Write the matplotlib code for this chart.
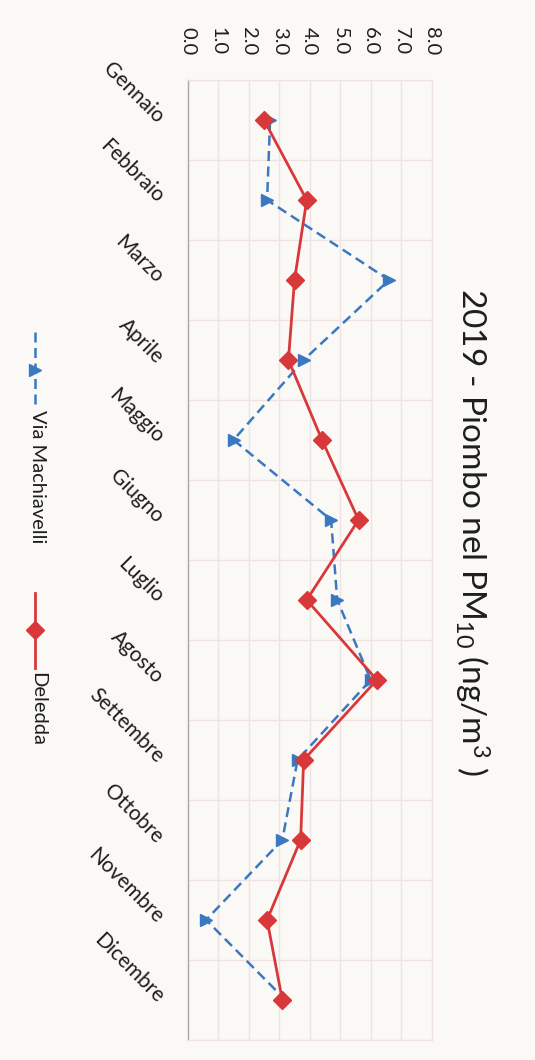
import numpy as np
import matplotlib
matplotlib.use("Agg")
import matplotlib.pyplot as plt
from matplotlib.lines import Line2D

mesi = ['Gennaio', 'Febbraio', 'Marzo', 'Aprile', 'Maggio', 'Giugno',
        'Luglio', 'Agosto', 'Settembre', 'Ottobre', 'Novembre', 'Dicembre']
machiavelli = [2.7, 2.6, 6.6, 3.8, 1.5, 4.7, 4.9, 6.0, 3.6, 3.1, 0.6, 3.2]
deledda = [2.5, 3.9, 3.5, 3.3, 4.4, 5.6, 3.9, 6.2, 3.8, 3.7, 2.6, 3.1]
valori_tick = np.arange(0, 9, 1)

titolo = '2019 - Piombo nel PM$_{10}$ (ng/m$^{3}$ )'
nome_mach = 'Via Machiavelli'
nome_del = 'Deledda'

blu = '#3B78C2'
rosso = '#D8383A'
sfondo = '#FBF9F5'
griglia = '#EEE2E2'
testo = '#1E1E1E'

plt.rcParams['font.family'] = ['Lato', 'DejaVu Sans']
plt.rcParams['mathtext.fontset'] = 'custom'
plt.rcParams['mathtext.rm'] = 'Lato'
plt.rcParams['mathtext.it'] = 'Lato:italic'
plt.rcParams['mathtext.bf'] = 'Lato:bold'
plt.rcParams['text.color'] = testo

fig = plt.figure(figsize=(5.35, 10.6), dpi=100, facecolor=sfondo)
ax = fig.add_axes([0.351, 0.019, 0.456, 0.9055], facecolor=sfondo)

pos = np.arange(len(mesi))
tratteggio = (0, (4, 2.2))
stile_blu = dict(color=blu, lw=1.8, linestyle=tratteggio, marker='>',
                 markersize=8.5, markerfacecolor=blu, markeredgecolor=blu)
stile_rosso = dict(color=rosso, lw=2.0, linestyle='-', marker='D',
                   markersize=9, markerfacecolor=rosso, markeredgecolor=rosso)
ax.plot(machiavelli, pos, zorder=3, **stile_blu)
ax.plot(deledda, pos, zorder=4, **stile_rosso)

ax.set_xlim(0, 8)
ax.set_ylim(len(mesi) - 0.5, -0.5)

# value axis on top, labels turned like the scanned page
ax.xaxis.tick_top()
ax.set_xticks(valori_tick)
ax.set_xticklabels(['%.1f' % v for v in valori_tick], rotation=-90, fontsize=14.5,
                   color=testo)
ax.tick_params(axis='x', length=0, pad=18)

ax.set_yticks(pos)
ax.set_yticklabels(mesi, rotation=-45, fontsize=15, color=testo)
for lbl in ax.get_yticklabels():
    lbl.set_rotation_mode('anchor')
    lbl.set_ha('right')
    lbl.set_va('center')
ax.tick_params(axis='y', length=0, pad=20)
ax.set_yticks(np.arange(-0.5, len(mesi), 1), minor=True)
ax.tick_params(axis='y', which='minor', length=0)

ax.grid(axis='x', which='major', color=griglia, lw=1.0, zorder=0)
ax.grid(axis='y', which='minor', color=griglia, lw=1.0, zorder=0)
ax.set_axisbelow(True)

for s in ['top', 'right', 'bottom']:
    ax.spines[s].set_color(griglia)
ax.spines['left'].set_color('#A8A8A8')
ax.spines['left'].set_linewidth(1.0)

fig.text(0.882, 0.4985, titolo, rotation=-90, ha='center', va='center', fontsize=24)

# legend drawn by hand, rotated like the rest of the page
lx = 0.0654
fig.add_artist(Line2D([lx, lx], [0.6868, 0.616], transform=fig.transFigure,
                      color=blu, lw=1.8, linestyle=tratteggio))
fig.add_artist(Line2D([lx], [0.6514], transform=fig.transFigure, marker='>',
                      markersize=8.5, color=blu, linestyle='none'))
fig.text(lx + 0.004, 0.613, nome_mach, rotation=-90, ha='center', va='top', fontsize=14.5)

fig.add_artist(Line2D([lx, lx], [0.4406, 0.3698], transform=fig.transFigure,
                      color=rosso, lw=2.0))
fig.add_artist(Line2D([lx], [0.4052], transform=fig.transFigure, marker='D',
                      markersize=9, color=rosso, linestyle='none'))
fig.text(lx + 0.004, 0.366, nome_del, rotation=-90, ha='center', va='top', fontsize=14.5)

fig.savefig('out.png', dpi=100, facecolor=sfondo)
